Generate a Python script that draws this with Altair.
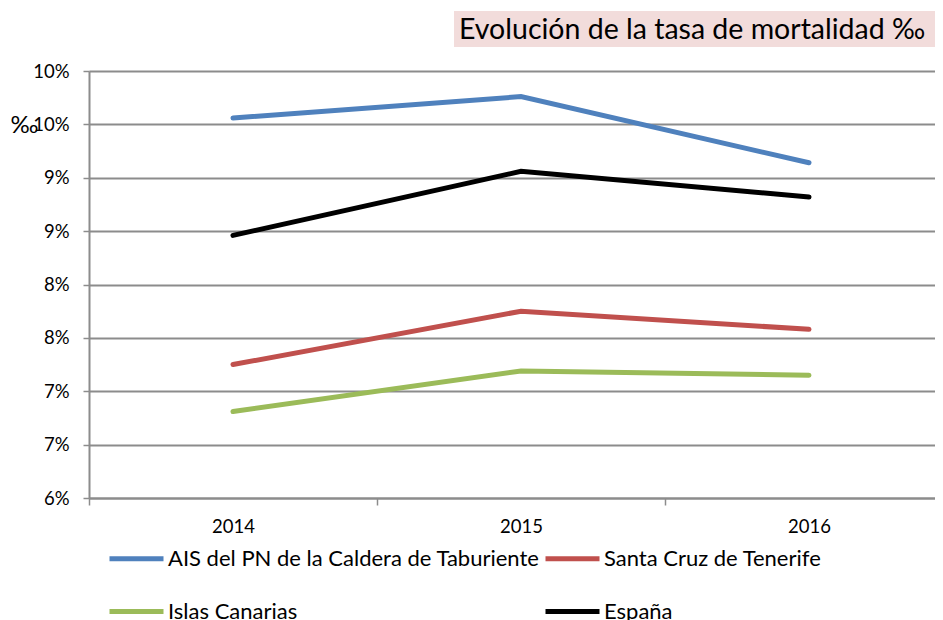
import altair as alt
import pandas as pd

years = [2014, 2015, 2016]
series = ["AIS del PN de la Caldera de Taburiente", "Santa Cruz de Tenerife",
          "Islas Canarias", "España"]
ais = [9.56, 9.76, 9.14]
santa_cruz = [7.25, 7.75, 7.58]
canarias = [6.81, 7.19, 7.15]
espana = [8.46, 9.06, 8.82]
colors = ["#4F81BD", "#C0504D", "#9BBB59", "#000000"]
y_ticks = [6, 6.5, 7, 7.5, 8, 8.5, 9, 9.5, 10]
x_ticks = [2013.5, 2014, 2014.5, 2015, 2015.5, 2016]
title_text = "Evolución de la tasa de mortalidad ‰"

rows = []
for name, vals in zip(series, [ais, santa_cruz, canarias, espana]):
    for y, v in zip(years, vals):
        rows.append({"Año": y, "Serie": name, "Valor": v})
df = pd.DataFrame(rows)

FONT = "Lato"
GRAY = "#8C8C8C"

lines = alt.Chart(df).mark_line(strokeWidth=5, strokeCap="round").encode(
    x=alt.X("Año:Q",
            scale=alt.Scale(domain=[2013.5, 2016.4375], nice=False, zero=False),
            axis=alt.Axis(values=x_ticks, title=None, grid=False,
                          labelExpr="datum.value % 1 == 0 ? datum.value : ''",
                          tickColor={"condition": {"test": "datum.value % 1 == 0", "value": "transparent"}, "value": GRAY},
                          tickSize=7, tickWidth=1.5, domainColor=GRAY, domainWidth=2,
                          labelFont=FONT, labelFontSize=18.5, labelColor="#000000",
                          labelPadding=12, labelFlush=False, labelOverlap=False)),
    y=alt.Y("Valor:Q",
            scale=alt.Scale(domain=[6, 10], nice=False, zero=False),
            axis=alt.Axis(values=y_ticks, title="‰", titleAngle=0,
                          titleX=-65, titleY=54, titleAlign="center", titleBaseline="middle",
                          titleFont=FONT, titleFontSize=24, titleFontWeight="normal",
                          titleColor="#000000",
                          labelExpr="round(datum.value) + '%'",
                          grid=True, gridColor=GRAY, gridWidth=2,
                          tickColor=GRAY, tickSize=6, tickWidth=1.5,
                          domainColor=GRAY, domainWidth=2,
                          labelFont=FONT, labelFontSize=18.5, labelColor="#000000",
                          labelPadding=14)),
    color=alt.Color("Serie:N",
                    scale=alt.Scale(domain=series, range=colors),
                    sort=series,
                    legend=alt.Legend(title=None, orient="none", legendX=18, legendY=458,
                                      direction="horizontal", columns=2,
                                      symbolType="stroke", symbolSize=2916,
                                      symbolStrokeWidth=5, labelOffset=2,
                                      labelFont=FONT, labelFontSize=22, labelColor="#000000",
                                      columnPadding=-5, rowPadding=12, padding=0,
                                      labelLimit=0)),
)

box = alt.Chart(pd.DataFrame({"t": [title_text]})).mark_rect(color="#F2DCDB").encode(
    x=alt.value(365), x2=alt.value(860), y=alt.value(-60), y2=alt.value(-24)
)
title = alt.Chart(pd.DataFrame({"t": [title_text]})).mark_text(
    align="left", baseline="alphabetic", font=FONT, fontSize=28.5, color="#000000"
).encode(x=alt.value(370), y=alt.value(-32), text="t:N")

chart = alt.layer(box, lines, title).properties(
    width=846, height=427,
    autosize=alt.AutoSizeParams(type="none"),
    padding={"left": 81, "top": 63, "right": 0, "bottom": 122},
).configure_view(stroke=None).configure(background="white")

chart.save("out.html", embed_options={"renderer": "svg", "actions": False})
